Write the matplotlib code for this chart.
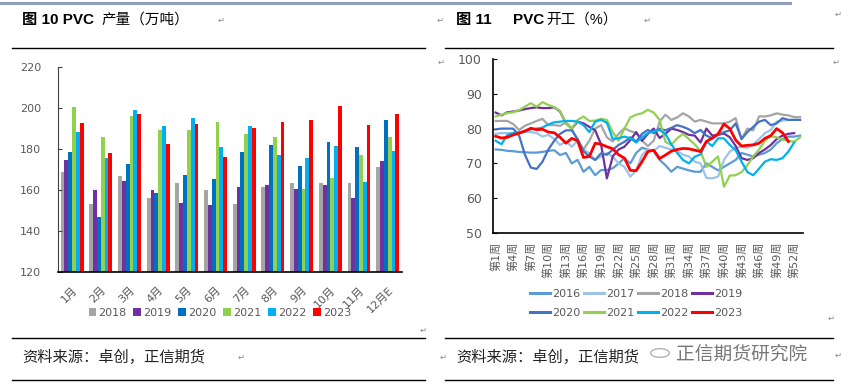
import numpy as np
import matplotlib.pyplot as plt
from matplotlib.lines import Line2D
from matplotlib.patches import Circle

plt.rcParams['font.family'] = ['DejaVu Sans', 'Noto Sans CJK SC']

# ---- 图10 PVC 产量（万吨） ----
months = ['1月', '2月', '3月', '4月', '5月', '6月', '7月', '8月', '9月', '10月', '11月', '12月E']
bar_years = ['2018', '2019', '2020', '2021', '2022', '2023']
prod_2018 = [168.6, 153.1, 167.0, 156.1, 163.6, 160.1, 153.1, 161.6, 163.6, 163.6, 163.6, 171.1]
prod_2019 = [174.8, 160.1, 164.4, 160.1, 153.9, 152.8, 161.6, 162.7, 160.3, 162.7, 156.1, 174.0]
prod_2020 = [178.7, 146.8, 172.9, 158.8, 167.3, 165.4, 178.7, 182.0, 171.7, 183.3, 181.2, 194.1]
prod_2021 = [200.3, 185.7, 196.2, 189.3, 189.2, 193.2, 187.4, 186.1, 160.6, 165.8, 176.9, 185.7]
prod_2022 = [188.2, 175.8, 199.0, 191.1, 194.9, 181.0, 191.1, 176.9, 175.8, 181.3, 163.9, 179.1]
prod_2023 = [192.8, 178.1, 197.0, 182.3, 192.3, 176.1, 190.3, 193.2, 194.1, 200.8, 191.9, 197.2]
bar_colors = ['#A5A5A5', '#7030A0', '#0070C0', '#92D050', '#00B0F0', '#FF0000']

# ---- 图11 PVC 开工（%） ----
weeks = ['第%d周' % i for i in range(1, 54)]
line_years = ['2016', '2017', '2018', '2019', '2020', '2021', '2022', '2023']
rate_2016 = [74, 73.9, 73.6, 73.5, 73.3, 73.2, 73.1, 73.1, 73.3, 73.6, 73.8, 72.4, 73, 70, 71,
             67.6, 69, 66.6, 68.1, 68.1, 68.6, 70, 71.5, 70, 73, 74.5, 74, 73.5, 71, 69.5, 67.6,
             69, 68.5, 68, 67.6, 67.6, 70, 69, 68, 69, 70, 71, 73, 72.5, 72, 72.5, 73, 74, 75.8,
             77, 77.7, 77.7, 78]
rate_2017 = [78.5, 78.7, 78.7, 78.8, 79, 79.1, 79, 78.7, 77.7, 78.2, 77, 75.3, 76.3, 74.8, 76.5,
             74, 72.9, 71, 72, 73, 72, 70, 69, 66.2, 68, 72.4, 74, 73.5, 75, 74.5, 74, 73.5, 72.5,
             72, 70.5, 70, 65.8, 65.7, 66.2, 71, 73.4, 74.5, 74.8, 74.5, 75.5, 77, 78.7, 79.6, 82,
             82.3, 82.5, 82.5, 82.5]
rate_2018 = [82.2, 82.2, 82.2, 81.3, 79.6, 80.8, 81.5, 82.2, 82.8, 81, 81, 80.8, 81.8, 80, 76.5,
             74, 76.5, 80, 81, 77.5, 76.3, 78.5, 80.1, 79.3, 78.7, 76.5, 75, 76.5, 82, 84, 82.5,
             83.2, 84.4, 83.5, 82, 82.5, 82, 81.5, 81.5, 81.5, 82, 83, 77, 80, 79.5, 83.5, 83.5,
             83.8, 84.4, 84, 83.8, 83.3, 83.3]
rate_2019 = [84.6, 83.8, 84.7, 84.9, 85.2, 85.6, 85.9, 86.1, 85.9, 85.9, 86.1, 84.9, 81.5, 80, 82,
             81.5, 80.5, 79.5, 75.5, 65.7, 72, 74, 74.8, 76.7, 79, 76.5, 78.5, 80, 77.3, 78.5, 80,
             79.6, 79, 78.2, 78, 76, 80, 78, 78.2, 78.6, 77.5, 75, 71.5, 71, 71.5, 73, 74, 75.3,
             77, 78, 78.5, 78.7]
rate_2020 = [79.8, 80, 80, 80, 78, 72.5, 68.8, 68.4, 70.5, 74, 76.5, 78.5, 79.5, 79.5, 77, 73.5,
             72, 71, 72.9, 72.5, 73.9, 75.3, 76.2, 77.5, 76.3, 78.5, 79.6, 78.7, 80, 79.5, 80.2,
             81, 80.5, 79.8, 78.7, 79.6, 78, 77.2, 78.2, 79, 79.5, 81.5, 77, 79, 80.5, 82, 82.5,
             81, 81.5, 83, 82.5, 82.5, 82.5]
rate_2021 = [83.5, 84, 84.5, 84.7, 85.3, 86.3, 87.3, 86.3, 87.6, 86.8, 86.2, 85, 81.5, 80, 82.5,
             83.5, 82.2, 82.3, 82.8, 82.5, 79, 76.5, 80, 83.2, 84, 84.4, 85.4, 84.6, 82.5, 76.2,
             75.3, 77.2, 78.5, 77, 75.5, 73.5, 69, 70.5, 72, 63.3, 66.5, 66.6, 67.5, 69.5, 72, 74,
             76.5, 77.8, 77.5, 76.8, 76.5, 76.2, 77.5]
rate_2022 = [76.5, 75.5, 78.2, 78.7, 78.8, 79.1, 79.8, 80, 80.3, 81.2, 81.8, 82, 82.2, 82.2, 82,
             81, 79, 82, 82.5, 81.7, 77, 77.2, 77.7, 77.2, 76, 77.5, 78.7, 79.2, 79.6, 78.5, 75.5,
             73, 71, 70, 71.9, 72.6, 76.3, 75, 77.2, 77.2, 75.3, 73.8, 70.5, 67.5, 66.6, 68.5,
             70.5, 71.2, 71, 71.5, 73.4, 76]
rate_2023 = [77.8, 77.3, 77.5, 78.2, 78.7, 79.3, 80.1, 79.7, 79.8, 79, 78.8, 77.5, 75.8, 77.2,
             76.5, 71.7, 72, 75.8, 75.5, 74.8, 74.2, 72.5, 71.5, 68, 67.9, 70.5, 73.4, 73.8, 71.4,
             72.4, 73.5, 74, 74.3, 74.2, 73.8, 73.4, 76.3, 77.3, 78.5, 81.3, 80, 76.7, 75, 75.2,
             75.3, 75.8, 77.2, 78, 80, 78.8, 76.3]
line_colors = ['#5B9BD5', '#9DC3E6', '#A5A5A5', '#7030A0', '#4472C4', '#92D050', '#00B0F0', '#FF0000']

label_color = '#595959'
fig = plt.figure(figsize=(8.5, 3.92), dpi=100)

# 左图：柱状图
ax1 = fig.add_axes([0.068, 0.306, 0.405, 0.523])
prod = [prod_2018, prod_2019, prod_2020, prod_2021, prod_2022, prod_2023]
x = np.arange(len(months))
w = 0.8 / len(bar_years)
for k, (yr, vals, c) in enumerate(zip(bar_years, prod, bar_colors)):
    ax1.bar(x + (k - 2.5) * w, np.array(vals) - 120, bottom=120, width=w,
            color=c, label=yr)
ax1.set_xlim(-0.5, 11.5)
ax1.set_ylim(120, 220)
ax1.set_yticks(range(120, 221, 20))
ax1.set_xticks(x)
ax1.set_xticklabels(months, rotation=45, ha='right', va='top',
                    rotation_mode='anchor', fontsize=8, color=label_color)
ax1.tick_params(axis='x', length=0, pad=9)
ax1.tick_params(axis='y', direction='in', length=3, labelsize=8,
                labelcolor=label_color, pad=12, color='#404040')
for s in ['top', 'right']:
    ax1.spines[s].set_visible(False)
ax1.spines['left'].set_color('#404040')
ax1.spines['bottom'].set_color('black')
ax1.spines['bottom'].set_linewidth(1.2)
ax1.legend(ncol=6, loc='center', bbox_to_anchor=(220 / 850, 1 - 313 / 392),
           bbox_transform=fig.transFigure, frameon=False, fontsize=8,
           handlelength=0.7, handleheight=0.7, handletextpad=0.2,
           columnspacing=0.6, labelcolor=label_color)

# 右图：折线图
ax2 = fig.add_axes([0.5797, 0.4056, 0.365, 0.4439])
rates = [rate_2016, rate_2017, rate_2018, rate_2019, rate_2020, rate_2021, rate_2022, rate_2023]
for yr, vals, c in zip(line_years, rates, line_colors):
    lw = 2.0 if yr == '2023' else 1.6
    ax2.plot(np.arange(1, len(vals) + 1), vals, color=c, lw=lw, label=yr,
             solid_joinstyle='round')
ax2.set_xlim(0.5, 53.5)
ax2.set_ylim(50, 100)
ax2.set_yticks(range(50, 101, 10))
ax2.set_xticks(range(1, 54, 3))
ax2.set_xticklabels(weeks[::3], rotation=90, fontsize=8, color=label_color)
ax2.tick_params(axis='x', length=0, pad=6)
ax2.tick_params(axis='y', direction='in', length=3, labelsize=9,
                labelcolor=label_color, pad=8)
for s in ['top', 'right']:
    ax2.spines[s].set_visible(False)
for s in ['left', 'bottom']:
    ax2.spines[s].set_linewidth(1.2)
# 图例按行排列：2016-2019 一行，2020-2023 一行
order = [0, 4, 1, 5, 2, 6, 3, 7]
handles = [Line2D([], [], color=line_colors[i], lw=2.2) for i in order]
labels = [line_years[i] for i in order]
ax2.legend(handles, labels, ncol=4, loc='center',
           bbox_to_anchor=(636 / 850, 1 - 303.5 / 392), bbox_transform=fig.transFigure,
           frameon=False, fontsize=8, handlelength=1.8, handletextpad=0.2,
           columnspacing=0.3, labelspacing=0.85, labelcolor=label_color)

# 标题、来源与分隔线
def hline(y, x0, x1, color='black', lw=1.0):
    fig.add_artist(Line2D([x0 / 850, x1 / 850], [1 - y / 392, 1 - y / 392],
                          color=color, lw=lw))

hline(3, 0, 790, color='#8EA0B8', lw=2.2)
for y in (48, 338, 380):
    hline(y, 12, 425)
    hline(y, 445, 833)

title_font = ['Liberation Sans', 'Noto Sans CJK SC']
fig.text(22 / 850, 1 - 20 / 392, '图 10 PVC', fontsize=11, fontweight='bold',
         family=title_font, va='center')
fig.text(101 / 850, 1 - 20 / 392, '产量（万吨）', fontsize=10.5,
         family=title_font, va='center')
fig.text(456 / 850, 1 - 20 / 392, '图 11', fontsize=11, fontweight='bold',
         family=title_font, va='center')
fig.text(513 / 850, 1 - 20 / 392, 'PVC', fontsize=11, fontweight='bold',
         family=title_font, va='center')
fig.text(546 / 850, 1 - 20 / 392, '开工（%）', fontsize=10.5,
         family=title_font, va='center')

src = '资料来源：卓创，正信期货'
fig.text(22 / 850, 1 - 357 / 392, src, fontsize=11, family=title_font,
         va='center', color='#222222')
fig.text(456 / 850, 1 - 357 / 392, src, fontsize=11, family=title_font,
         va='center', color='#222222')
fig.add_artist(Circle((660 / 850, 1 - 353 / 392), 0.011, transform=fig.transFigure,
                      facecolor='white', edgecolor='#AAAAAA', lw=1.0, alpha=0.9))
fig.text(676 / 850, 1 - 355 / 392, '正信期货研究院', fontsize=13.5,
         family=title_font, va='center', color='#777777')

# 段落标记
for px, py in [(218, 20), (644, 20), (437, 20), (835, 14), (833, 62), (438, 62),
               (828, 318), (420, 330), (238, 357), (440, 357), (835, 355)]:
    fig.text(px / 850, 1 - py / 392, '↵', fontsize=6, color='#888888',
             va='center', family='DejaVu Sans')

fig.savefig('out.png', dpi=100)
